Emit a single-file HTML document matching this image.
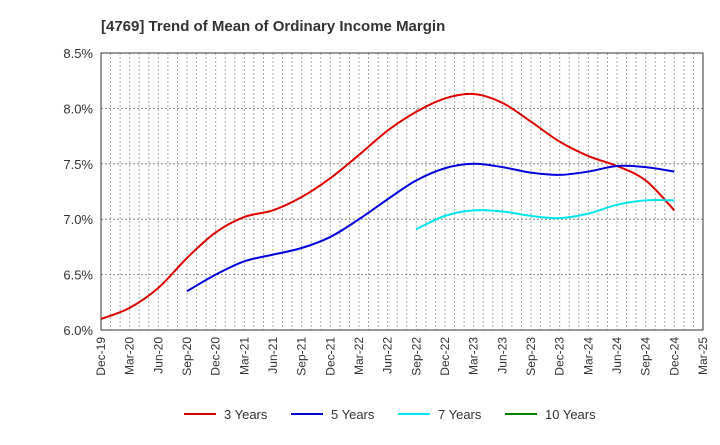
<!DOCTYPE html>
<html><head><meta charset="utf-8"><style>
body{margin:0;background:#fff;font-family:"Liberation Sans",Arial,sans-serif}
</style></head><body>
<svg id="c" width="720" height="440" xmlns="http://www.w3.org/2000/svg">
<text x="101" y="31" font-size="15" font-weight="bold" fill="#333">[4769]  Trend of Mean of Ordinary Income Margin</text>
<g id="grid"></g><g id="axes"></g><g id="series"></g><g id="legend"></g>
</svg>
<script>
const xLabels=["Dec-19","Mar-20","Jun-20","Sep-20","Dec-20","Mar-21","Jun-21","Sep-21","Dec-21","Mar-22","Jun-22","Sep-22","Dec-22","Mar-23","Jun-23","Sep-23","Dec-23","Mar-24","Jun-24","Sep-24","Dec-24","Mar-25"];
const yTicks=[6.0,6.5,7.0,7.5,8.0,8.5];
const s3=[6.10,6.20,6.38,6.65,6.88,7.02,7.08,7.20,7.37,7.58,7.80,7.97,8.09,8.13,8.05,7.88,7.70,7.57,7.48,7.35,7.08];
const s5=[null,null,null,6.35,6.50,6.62,6.68,6.74,6.84,7.00,7.18,7.35,7.46,7.50,7.47,7.42,7.40,7.43,7.48,7.47,7.43];
const s7=[null,null,null,null,null,null,null,null,null,null,null,6.91,7.03,7.08,7.07,7.03,7.01,7.05,7.13,7.17,7.17];
const s10=[];
const L=101,R=703,T=53,B=330,ymin=6,ymax=8.5;
const NS="http://www.w3.org/2000/svg";
const xq=i=>L+(R-L)*i/(xLabels.length-1);
const y=v=>B-(v-ymin)/(ymax-ymin)*(B-T);
function mk(t,a,p){const e=document.createElementNS(NS,t);for(const k in a)e.setAttribute(k,a[k]);p.appendChild(e);return e;}
const grid=document.getElementById('grid'),axes=document.getElementById('axes'),ser=document.getElementById('series'),leg=document.getElementById('legend');
const nm=(xLabels.length-1)*3;
for(let m=1;m<nm;m++){const X=L+(R-L)*m/nm;const e=mk('line',{x1:X,x2:X,y1:T,y2:B,stroke:'#aaa','stroke-width':1,'stroke-dasharray':'2,2'},grid);

}
yTicks.forEach(v=>{const e=mk('line',{x1:L,x2:R,y1:y(v),y2:y(v),stroke:'#888','stroke-width':1,'stroke-dasharray':'2,2'},grid);


const t=mk('text',{x:L-8,y:y(v)+5,'text-anchor':'end','font-size':13,fill:'#333'},axes);t.textContent=v.toFixed(1)+'%';

});
const fr=mk('rect',{x:L,y:T,width:R-L,height:B-T,fill:'none',stroke:'#333','stroke-width':1},axes);


xLabels.forEach((lb,i)=>{const t=mk('text',{transform:`translate(${xq(i)+4},${B+7}) rotate(-90)`,'text-anchor':'end','font-size':12,fill:'#333'},axes);t.textContent=lb;

});
function path(arr){const p=[];arr.forEach((v,i)=>{if(v!=null)p.push([xq(i),y(v)]);});if(p.length<2)return '';
let d=`M${p[0][0]},${p[0][1]}`;for(let i=0;i<p.length-1;i++){const p0=p[i-1]||p[i],p1=p[i],p2=p[i+1],p3=p[i+2]||p2;
d+=` C${p1[0]+(p2[0]-p0[0])/6},${p1[1]+(p2[1]-p0[1])/6} ${p2[0]-(p3[0]-p1[0])/6},${p2[1]-(p3[1]-p1[1])/6} ${p2[0]},${p2[1]}`;}return d;}
const S=[[s3,'#e00000','3 Years','series-3-years'],[s5,'#0000dd','5 Years','series-5-years'],[s7,'#00e5ee','7 Years','series-7-years'],[s10,'#008000','10 Years','series-10-years']];
S.forEach(([a,c,lb,n],k)=>{const d=path(a);if(d){const e=mk('path',{d,fill:'none',stroke:c,'stroke-width':2},ser);

}
const lx=[184,291,398,505][k];
const g=mk('g',{},leg);


mk('line',{x1:lx,x2:lx+32,y1:414,y2:414,stroke:c,'stroke-width':2},g);
const t=mk('text',{x:lx+40,y:419,'font-size':13,fill:'#333'},g);t.textContent=lb;});
</script>
</body></html>
